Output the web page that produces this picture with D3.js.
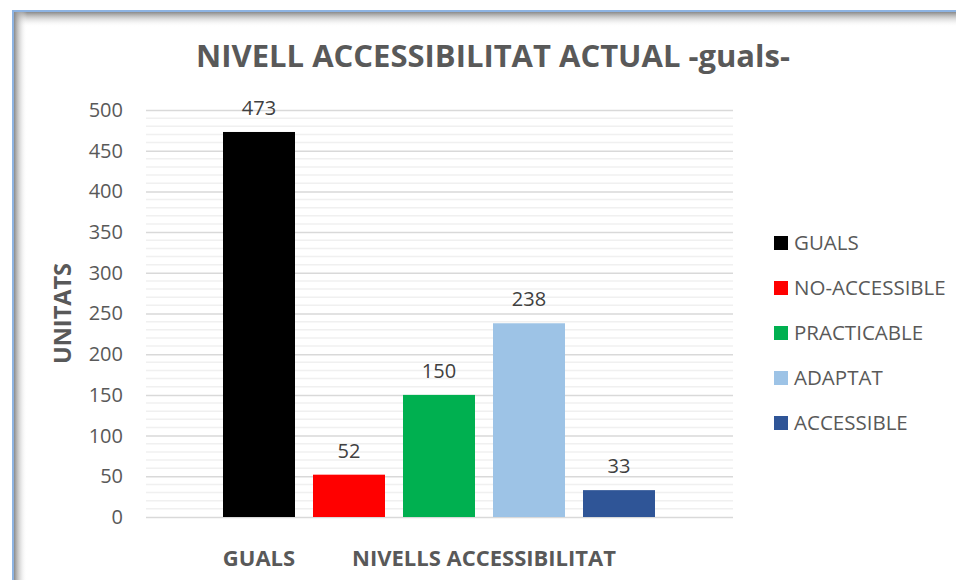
<!DOCTYPE html>
<html>
<head>
<meta charset="utf-8">
<script src="https://cdn.jsdelivr.net/npm/d3@7"></script>
<style>
  body { margin: 0; background: #fff; }
  svg { display: block; font-family: "Open Sans", sans-serif; }
</style>
</head>
<body>
<svg id="chart" width="956" height="580"></svg>
<script>
// data
let seriesNames = ['GUALS', 'NO-ACCESSIBLE', 'PRACTICABLE', 'ADAPTAT', 'ACCESSIBLE'];
let seriesValues = [473, 52, 150, 238, 33];
let seriesGroup = ['GUALS', 'NIVELLS ACCESSIBILITAT', 'NIVELLS ACCESSIBILITAT', 'NIVELLS ACCESSIBILITAT', 'NIVELLS ACCESSIBILITAT'];
let categories = ['GUALS', 'NIVELLS ACCESSIBILITAT'];
let colors = ['#000000', '#ff0000', '#00b050', '#9dc3e6', '#2f5597'];
let yTicks = [0, 50, 100, 150, 200, 250, 300, 350, 400, 450, 500];

let svg = d3.select('#chart');

//======= frame with inner shadow =======//
let defs = svg.append('defs');
let gTop = defs.append('linearGradient').attr('id', 'shTop')
  .attr('x1', 0).attr('y1', 0).attr('x2', 0).attr('y2', 1);
gTop.append('stop').attr('offset', '0%').attr('stop-color', '#8a8a8a');
gTop.append('stop').attr('offset', '100%').attr('stop-color', '#ffffff').attr('stop-opacity', 0);
let gLeft = defs.append('linearGradient').attr('id', 'shLeft')
  .attr('x1', 0).attr('y1', 0).attr('x2', 1).attr('y2', 0);
gLeft.append('stop').attr('offset', '0%').attr('stop-color', '#8a8a8a');
gLeft.append('stop').attr('offset', '100%').attr('stop-color', '#ffffff').attr('stop-opacity', 0);

svg.append('rect').attr('x', 13).attr('y', 12).attr('width', 960).attr('height', 15).attr('fill', 'url(#shTop)');
svg.append('rect').attr('x', 14).attr('y', 11).attr('width', 13).attr('height', 580).attr('fill', 'url(#shLeft)');
svg.append('rect').attr('x', 13).attr('y', 11).attr('width', 960).attr('height', 600)
  .attr('fill', 'none').attr('stroke', '#8db3e2').attr('stroke-width', 2);

//======= scales =======//
let y = d3.scaleLinear().domain([0, 500]).range([517, 110]);
let x = d3.scaleBand().domain(seriesNames).range([178, 700]).paddingInner(0.2).paddingOuter(0.5);
let gridLeft = 146, gridRight = 733;

// minor gridlines every 10
let grid = svg.append('g');
grid.selectAll('line.minor')
  .data(d3.range(0, 501, 10).filter(v => v % 50 != 0))
  .enter().append('line')
  .attr('x1', gridLeft).attr('x2', gridRight)
  .attr('y1', d => y(d)).attr('y2', d => y(d))
  .attr('stroke', '#f0f0f0').attr('stroke-width', 1.5);

// major gridlines + labels via axis
let axisY = svg.append('g')
  .attr('transform', 'translate(' + gridLeft + ',0)')
  .call(d3.axisRight(y).tickValues(yTicks).tickSize(gridRight - gridLeft).tickFormat(''));
axisY.select('.domain').remove();
axisY.selectAll('line').attr('stroke', '#d9d9d9').attr('stroke-width', 1.5);

let axisLabels = svg.append('g')
  .attr('transform', 'translate(123,0)')
  .call(d3.axisLeft(y).tickValues(yTicks).tickSize(0).tickPadding(0));
axisLabels.select('.domain').remove();
axisLabels.selectAll('text')
  .attr('font-family', '"Open Sans", sans-serif')
  .attr('font-size', 20).attr('fill', '#595959');

//======= bars =======//
svg.append('g').selectAll('rect')
  .data(seriesNames)
  .enter().append('rect')
  .attr('x', d => x(d))
  .attr('width', x.bandwidth())
  .attr('y', (d, i) => y(seriesValues[i]))
  .attr('height', (d, i) => y(0) - y(seriesValues[i]))
  .attr('fill', (d, i) => colors[i]);

svg.append('g').selectAll('text')
  .data(seriesNames)
  .enter().append('text')
  .attr('x', d => x(d) + x.bandwidth() / 2)
  .attr('y', (d, i) => y(seriesValues[i]) - 17)
  .attr('text-anchor', 'middle')
  .attr('font-size', 20).attr('fill', '#404040')
  .text((d, i) => seriesValues[i]);

//======= category labels =======//
svg.append('g').selectAll('text')
  .data(categories)
  .enter().append('text')
  .attr('x', c => {
    let names = seriesNames.filter((n, i) => seriesGroup[i] == c);
    return (x(names[0]) + x(names[names.length - 1]) + x.bandwidth()) / 2;
  })
  .attr('y', 566)
  .attr('text-anchor', 'middle')
  .attr('font-size', 22).attr('font-weight', 'bold').attr('fill', '#595959')
  .text(c => c);

//======= titles =======//
svg.append('text')
  .attr('x', 493).attr('y', 67)
  .attr('text-anchor', 'middle')
  .attr('font-size', 31).attr('font-weight', 'bold').attr('fill', '#595959')
  .text('NIVELL ACCESSIBILITAT ACTUAL -guals-');

svg.append('text')
  .attr('transform', 'translate(71,' + ((y(0) + y(500)) / 2) + ') rotate(-90)')
  .attr('text-anchor', 'middle')
  .attr('font-size', 23.5).attr('font-weight', 'bold').attr('fill', '#595959')
  .text('UNITATS');

//======= legend =======//
let legend = svg.append('g').selectAll('g')
  .data(seriesNames)
  .enter().append('g')
  .attr('transform', (d, i) => 'translate(774,' + (243 + i * 45) + ')');

legend.append('rect')
  .attr('x', 0).attr('y', -7).attr('width', 14).attr('height', 14)
  .attr('fill', (d, i) => colors[i]);

legend.append('text')
  .attr('x', 20).attr('y', 7)
  .attr('font-size', 20.5).attr('fill', '#595959')
  .text(d => d);
</script>
</body>
</html>
